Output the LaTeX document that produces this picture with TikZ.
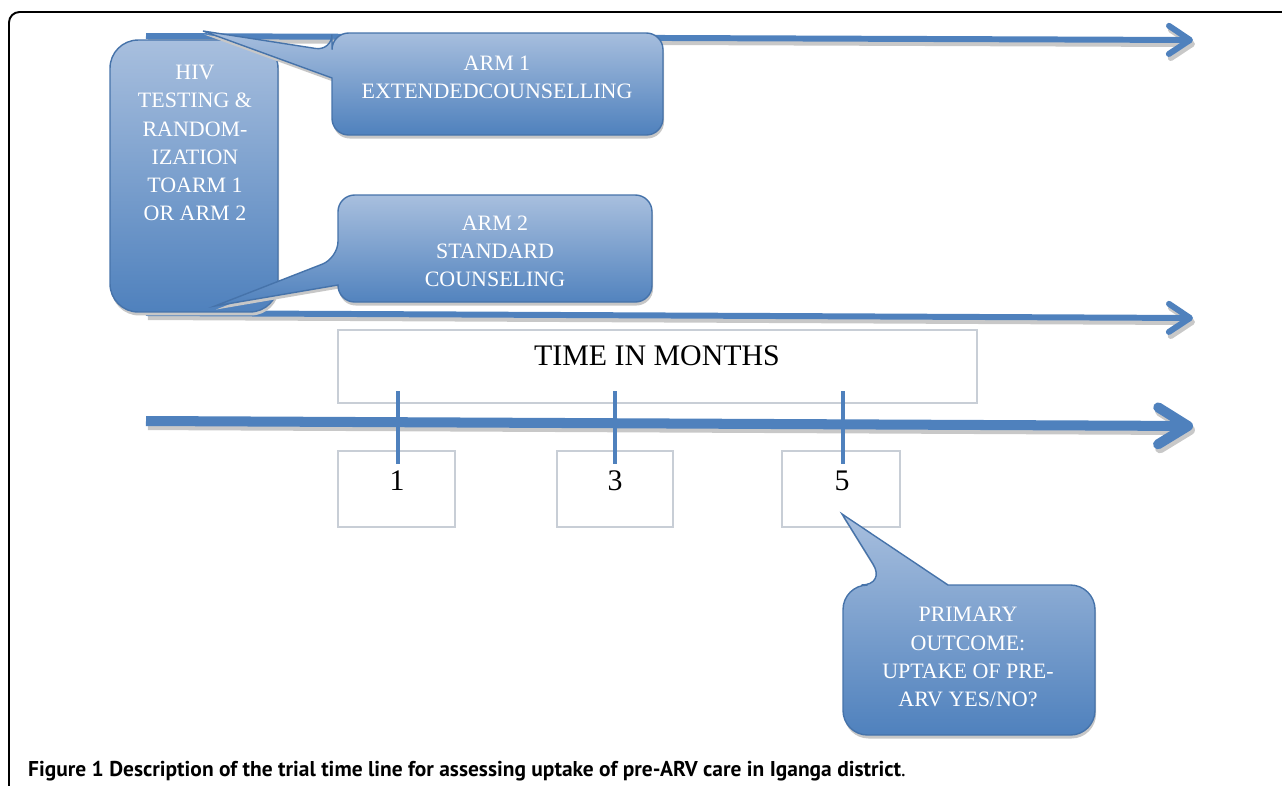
\documentclass[tikz,border=0pt]{standalone}
\usepackage{fontspec}
\setmainfont{Liberation Serif}
\newfontfamily\capfont{PT Sans}
\usetikzlibrary{arrows.meta,shadows,calc}

\definecolor{ablue}{RGB}{79,129,189}
\definecolor{lblue}{RGB}{168,191,222}
\definecolor{eblue}{RGB}{70,115,170}
\definecolor{shgray}{RGB}{200,200,200}
\definecolor{boxgray}{RGB}{200,206,214}

\begin{document}
\begin{tikzpicture}[x=0.02cm,y=-0.02cm,
   armline/.style={line width=3.4pt,-{Straight Barb[length=12pt,width=16pt,round]}},
   timeline/.style={line width=5.7pt,-{Straight Barb[length=17pt,width=21pt,round]}},
   lift/.style={shgray,transform canvas={xshift=1.1pt,yshift=-2.3pt}},
   bubble/.style={top color=lblue,bottom color=ablue,draw=eblue,line width=0.8pt,
    drop shadow={shadow xshift=0.6pt,shadow yshift=-2pt,fill=black!22,opacity=1}},
   btext/.style={text=white,align=center,font=\fontsize{12.5}{16}\selectfont},
   mbox/.style={draw=boxgray,line width=0.8pt,inner sep=0pt},
   tick/.style={draw=ablue,line width=2.8pt}
   ]
  \useasboundingbox (0,0) rectangle (1282,785);
  % -- frame
  \begin{scope}
    \clip (0,0) rectangle (1282,785);
    \draw[line width=1.1pt,rounded corners=6pt] (9,12) rectangle (1300,800);
  \end{scope}

  % -- arms and time line
  \coordinate (a1s) at (146,36);  \coordinate (a1e) at (1193,40);
  \coordinate (a2s) at (146,313); \coordinate (a2e) at (1193,318);
  \coordinate (ts) at (146,421);  \coordinate (te) at (1193,426);
  \draw[armline,lift] (a1s) -- (a1e);
  \draw[armline,ablue] (a1s) -- (a1e);
  \draw[armline,lift] (a2s) -- (a2e);
  \draw[armline,ablue] (a2s) -- (a2e);

  % -- boxes
  \node[mbox,minimum width=12.78cm,minimum height=1.46cm] at (657.5,366.5) (tbox) {};
  \node[font=\fontsize{17}{20}\selectfont] at (657,356) (tlabel) {TIME IN MONTHS};
  \node[mbox,minimum width=2.34cm,minimum height=1.52cm] at (396.5,489) (m1) {};
  \node[mbox,minimum width=2.32cm,minimum height=1.52cm] at (615,489) (m3) {};
  \node[mbox,minimum width=2.36cm,minimum height=1.52cm] at (841,489) (m5) {};
  \node[font=\fontsize{17}{20}\selectfont] at (397,481) (d1) {1};
  \node[font=\fontsize{17}{20}\selectfont] at (615,481) (d3) {3};
  \node[font=\fontsize{17}{20}\selectfont] at (842,481) (d5) {5};

  \draw[timeline,lift] (ts) -- (te);
  \draw[timeline,ablue] (ts) -- (te);
  \draw[tick] ($(m1.north)+(1.5,-59)$) -- ($(m1.north)+(1.5,14)$);
  \draw[tick] ($(m3.north)+(0,-59)$) -- ($(m3.north)+(0,14)$);
  \draw[tick] ($(m5.north)+(2,-59)$) -- ($(m5.north)+(2,14)$);

  % -- callouts
  \node[bubble,rounded corners=16pt,minimum width=3.36cm,minimum height=5.44cm,inner sep=0pt]
    at (194,176) (hiv) {};
  \node[btext] at (195,143) (hivtxt) {HIV\\TESTING \&\\RANDOM-\\IZATION\\TOARM 1\\OR ARM 2};

  \path[bubble] (332,78) [rounded corners=9.5pt] -- (332,135) -- (663,135) -- (663,33)
    -- (332,33) -- (332,51) [sharp corners] -- (203,31) -- cycle;
  \node[btext] at (497,77) (arm1) {ARM 1\\EXTENDEDCOUNSELLING};

  \path[bubble] (338,285) [rounded corners=9.5pt] -- (338,302) -- (652,302) -- (652,195)
    -- (338,195) -- (338,258) [sharp corners] -- (215,306) -- cycle;
  \node[btext] at (495,251) (arm2) {ARM 2\\STANDARD\\COUNSELING};

  \path[bubble] (948,585) [rounded corners=14pt] -- (1095,585) -- (1095,735) -- (843,735)
    -- (843,585) -- (886,585) [sharp corners] -- (842,514) -- cycle;
  \node[btext] at (968,657) (prim) {PRIMARY\\OUTCOME:\\UPTAKE OF PRE-\\ARV YES/NO?};

  % -- caption
  \node[anchor=base west,font=\capfont\bfseries\fontsize{12.2}{14}\selectfont] at (22,776) (cap)
    {Figure 1 Description of the trial time line for assessing uptake of pre-ARV care in Iganga district{\mdseries.}};
\end{tikzpicture}
\end{document}
